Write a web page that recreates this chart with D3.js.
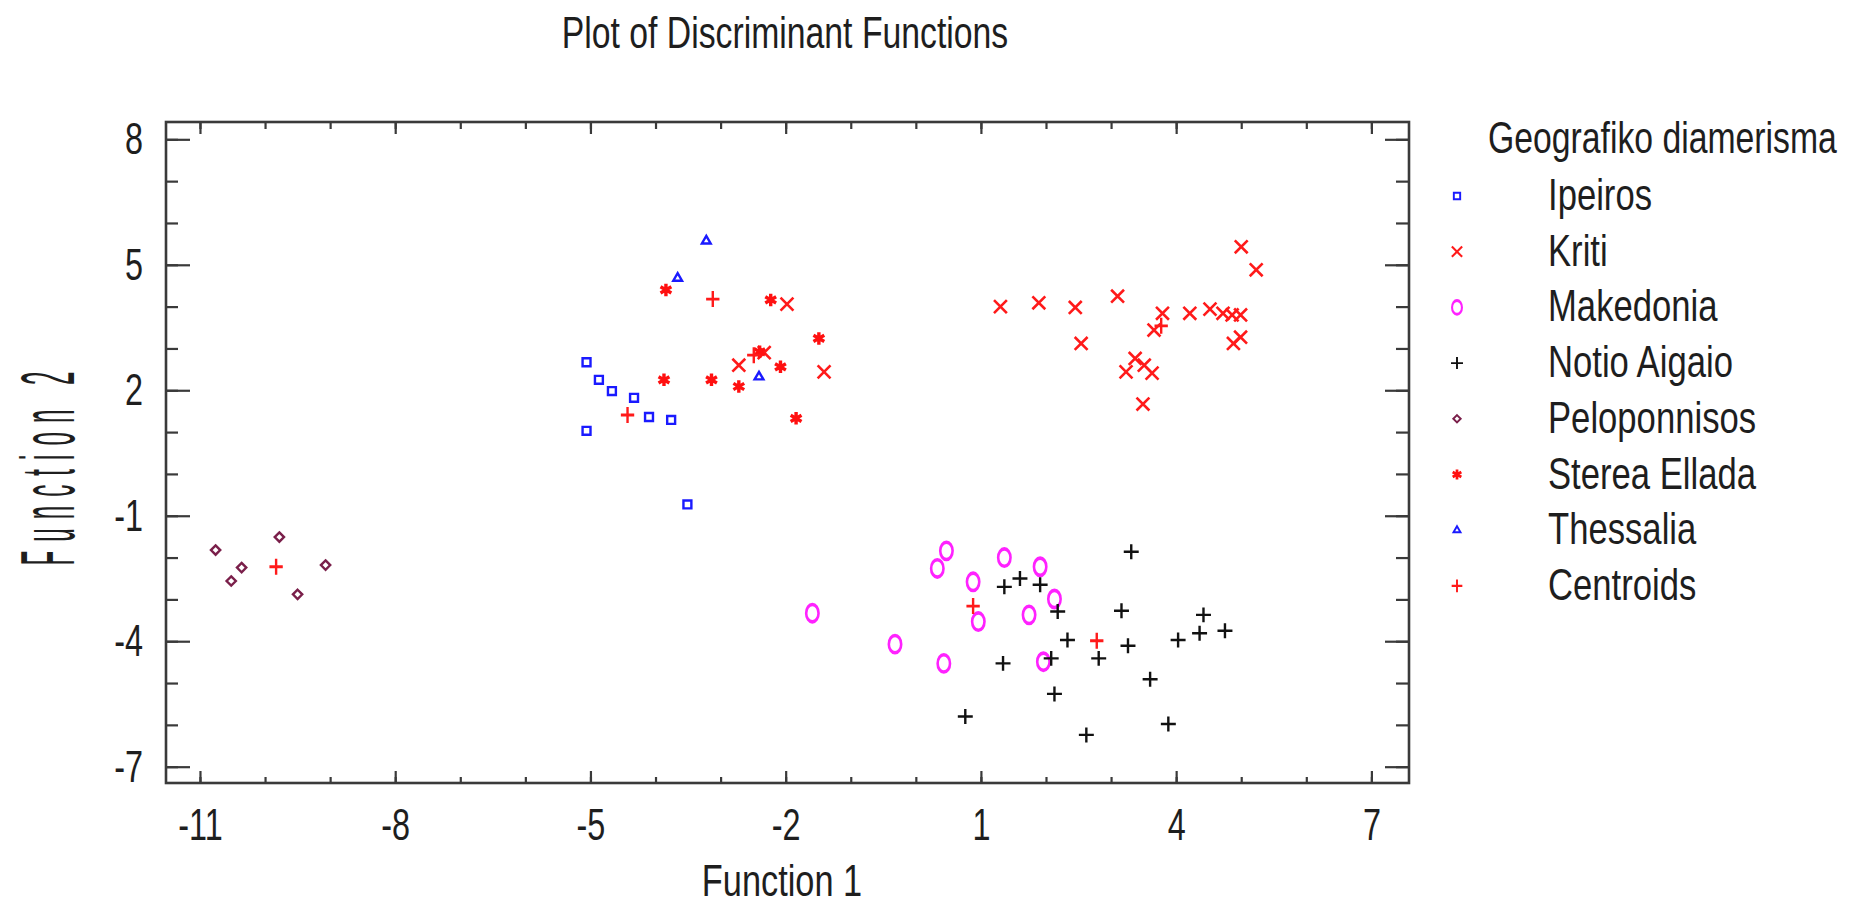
<!DOCTYPE html>
<html>
<head>
<meta charset="utf-8">
<script src="https://cdn.jsdelivr.net/npm/d3@7"></script>
<style>
  body { margin: 0; background: #fff; }
  text { font-family: "Liberation Sans", Arial, sans-serif; fill: #1e1e1e; }
</style>
</head>
<body>
<div id="chart"></div>
<script>
// data
var groups = ["Ipeiros", "Kriti", "Makedonia", "Notio Aigaio", "Peloponnisos", "Sterea Ellada", "Thessalia", "Centroids"];

var ipeiros = [[-5.06, 2.67], [-4.87, 2.25], [-4.67, 1.98], [-4.33, 1.82], [-4.10, 1.36],
  [-3.76, 1.29], [-5.06, 1.03], [-3.51, -0.73]];

var kriti = [[-1.98, 4.06], [-2.72, 2.60], [-2.33, 2.90], [-1.41, 2.44], [1.30, 4.00], [1.89, 4.09],
  [2.45, 3.98], [3.10, 4.25], [2.54, 3.12], [3.79, 3.84], [3.66, 3.44], [4.21, 3.84], [4.52, 3.94],
  [4.72, 3.84], [4.86, 3.80], [4.99, 3.80], [5.00, 5.43], [5.23, 4.88], [4.99, 3.27], [4.88, 3.12],
  [3.37, 2.76], [3.51, 2.60], [3.23, 2.44], [3.63, 2.41], [3.49, 1.67]];

var makedonia = [[-1.59, -3.33], [-0.32, -4.07], [0.43, -4.53], [0.47, -1.84], [0.33, -2.26],
  [0.88, -2.58], [1.36, -2.00], [1.91, -2.22], [2.13, -2.99], [0.96, -3.53], [1.74, -3.37], [1.96, -4.49]];

var notioAigaio = [[3.31, -1.86], [1.36, -2.70], [1.60, -2.50], [1.91, -2.65], [2.18, -3.29],
  [3.16, -3.27], [4.42, -3.37], [4.75, -3.75], [4.36, -3.81], [4.03, -3.97], [2.33, -3.97],
  [3.26, -4.11], [2.81, -4.41], [2.08, -4.41], [1.34, -4.53], [3.60, -4.91], [2.13, -5.26],
  [0.76, -5.80], [3.88, -5.98], [2.62, -6.24]];

var peloponnisos = [[-10.76, -1.82], [-10.36, -2.24], [-10.52, -2.56], [-9.78, -1.51],
  [-9.50, -2.88], [-9.07, -2.18]];

var stereaEllada = [[-3.84, 4.40], [-3.87, 2.25], [-3.14, 2.25], [-2.23, 4.16], [-2.72, 2.09],
  [-1.49, 3.24], [-2.40, 2.92], [-2.08, 2.56], [-1.84, 1.33]];

var thessalia = [[-3.22, 5.57], [-3.66, 4.68], [-2.41, 2.32]];

var centroids = [[-4.43, 1.41], [3.77, 3.54], [0.88, -3.16], [2.78, -3.99], [-9.83, -2.22],
  [-2.49, 2.84], [-3.12, 4.18]];

var xMajor = [-11, -8, -5, -2, 1, 4, 7];
var yMajor = [-7, -4, -1, 2, 5, 8];

var seriesData = [ipeiros, kriti, makedonia, notioAigaio, peloponnisos, stereaEllada, thessalia, centroids];

// marker look per group
var markers = [
  {type: d3.symbolSquare2, size: 80, color: "#1a1aff", sw: 2.4},
  {type: d3.symbolTimes, size: 110, color: "#ff1a1a", sw: 2.6},
  {type: d3.symbolCircle, size: 120, color: "#ff22ff", sw: 2.6, stretch: 1.4},
  {type: d3.symbolPlus, size: 75, color: "#111111", sw: 2.4},
  {type: d3.symbolDiamond2, size: 55, color: "#7a1f4a", sw: 2.4},
  {type: d3.symbolAsterisk, size: 110, color: "#ff1010", sw: 3.4},
  {type: d3.symbolTriangle2, size: 55, color: "#1a1aff", sw: 2.4},
  {type: d3.symbolPlus, size: 60, color: "#ff1a1a", sw: 2.4, stretch: 1.2}
];

var width = 1849, height = 907;
var box = {left: 166, right: 1409, top: 122, bottom: 783};

var svg = d3.select("#chart")
  .append("svg")
    .attr("width", width)
    .attr("height", height);

var x = d3.scaleLinear().domain([-11.522, 7.578]).range([box.left, box.right]);
var y = d3.scaleLinear().domain([-7.39, 8.414]).range([box.bottom, box.top]);

// squeeze text horizontally, the original font is a narrow one
function squeeze(sel, k) {
  sel.each(function() {
    var w = this.getComputedTextLength();
    d3.select(this).attr("textLength", w * k).attr("lengthAdjust", "spacingAndGlyphs");
  });
}

var xAll = d3.range(-11, 8);
var yAll = d3.range(-7, 9);
var plain = function(d) { return String(d); };

function styleAxis(g) {
  g.select(".domain").remove();
  g.selectAll("line").attr("stroke", "#3a3a3a").attr("stroke-width", 2.2);
}

// minor ticks on all four sides
svg.append("g").attr("transform", "translate(0," + box.bottom + ")")
  .call(d3.axisBottom(x).tickValues(xAll).tickSize(-6).tickFormat("")).call(styleAxis);
svg.append("g").attr("transform", "translate(0," + box.top + ")")
  .call(d3.axisTop(x).tickValues(xAll).tickSize(-7).tickFormat("")).call(styleAxis);
svg.append("g").attr("transform", "translate(" + box.left + ",0)")
  .call(d3.axisLeft(y).tickValues(yAll).tickSize(-12).tickFormat("")).call(styleAxis);
svg.append("g").attr("transform", "translate(" + box.right + ",0)")
  .call(d3.axisRight(y).tickValues(yAll).tickSize(-13).tickFormat("")).call(styleAxis);

// major ticks with labels
var xAxisG = svg.append("g").attr("transform", "translate(0," + box.bottom + ")")
  .call(d3.axisBottom(x).tickValues(xMajor).tickSize(-12).tickPadding(25).tickFormat(plain))
  .call(styleAxis);
svg.append("g").attr("transform", "translate(0," + box.top + ")")
  .call(d3.axisTop(x).tickValues(xMajor).tickSize(-12).tickFormat("")).call(styleAxis);
var yAxisG = svg.append("g").attr("transform", "translate(" + box.left + ",0)")
  .call(d3.axisLeft(y).tickValues(yMajor).tickSize(-24).tickPadding(23).tickFormat(plain))
  .call(styleAxis);
svg.append("g").attr("transform", "translate(" + box.right + ",0)")
  .call(d3.axisRight(y).tickValues(yMajor).tickSize(-24).tickFormat("")).call(styleAxis);

[xAxisG, yAxisG].forEach(function(g) {
  g.selectAll("text")
    .style("font-family", "'Liberation Sans', Arial, sans-serif")
    .style("font-size", "45px")
    .attr("fill", "#1e1e1e")
    .call(squeeze, 0.72);
});

// frame
svg.append("rect")
  .attr("x", box.left).attr("y", box.top)
  .attr("width", box.right - box.left).attr("height", box.bottom - box.top)
  .attr("fill", "none").attr("stroke", "#3a3a3a").attr("stroke-width", 2.6);

// points
function markerPath(m) {
  return d3.symbol().type(m.type).size(m.size)();
}

seriesData.forEach(function(pts, i) {
  var m = markers[i];
  svg.append("g")
    .selectAll("path")
    .data(pts)
    .enter()
    .append("path")
      .attr("d", markerPath(m))
      .attr("transform", function(d) {
        return "translate(" + x(d[0]) + "," + y(d[1]) + ")" + (m.stretch ? " scale(1," + m.stretch + ")" : "");
      })
      .attr("fill", "none")
      .attr("stroke", m.color)
      .attr("stroke-width", m.sw);
});

// title and axis titles
svg.append("text")
  .attr("x", 785).attr("y", 48)
  .attr("text-anchor", "middle")
  .style("font-size", "45px")
  .text("Plot of Discriminant Functions")
  .call(squeeze, 0.75);

svg.append("text")
  .attr("x", 782).attr("y", 896)
  .attr("text-anchor", "middle")
  .style("font-size", "44px")
  .text("Function 1")
  .call(squeeze, 0.78);

// vertical title: tall narrow glyphs, spaced apart
svg.append("text")
  .attr("transform", "translate(74,464) rotate(-90) scale(0.32,1)")
  .attr("text-anchor", "middle")
  .style("font-size", "76px")
  .style("letter-spacing", "28px")
  .attr("fill", "#3a3a4a")
  .text("Function 2");

// legend
var legend = svg.append("g");
legend.append("text")
  .attr("transform", "translate(1488,153) scale(0.75,1)")
  .style("font-size", "45px")
  .text("Geografiko diamerisma");

groups.forEach(function(name, i) {
  var m = markers[i];
  var base = 210 + i * 55.7;
  legend.append("path")
    .attr("d", markerPath(m))
    .attr("transform", "translate(1457," + (base - 14) + ")" + (m.stretch ? " scale(1," + m.stretch + ")" : "") + " scale(0.8)")
    .attr("fill", "none")
    .attr("stroke", m.color)
    .attr("stroke-width", m.sw);
  legend.append("text")
    .attr("x", 1548).attr("y", base)
    .style("font-size", "45px")
    .text(name)
    .call(squeeze, 0.77);
});
</script>
</body>
</html>
